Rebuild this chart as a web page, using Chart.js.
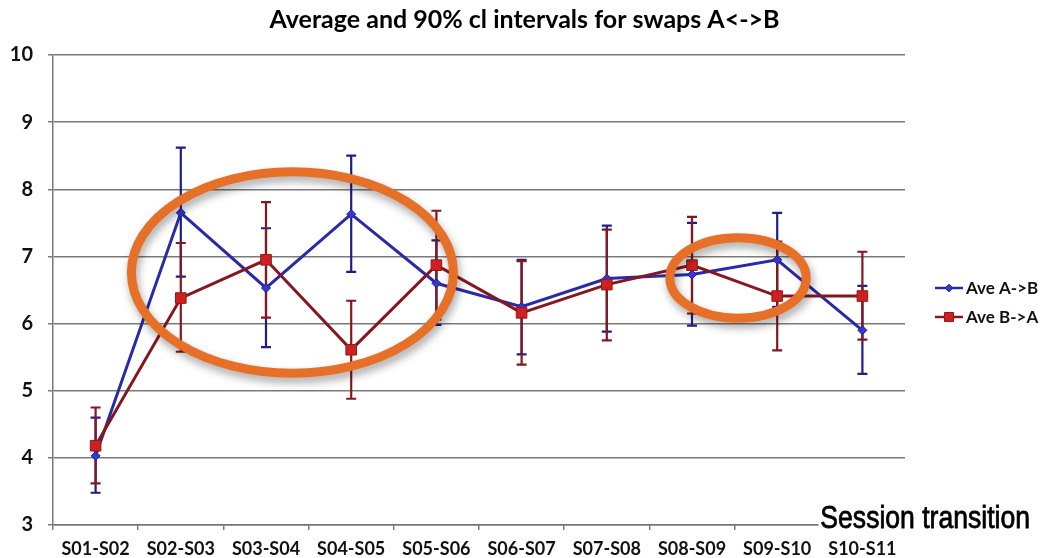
<!DOCTYPE html>
<html>
<head>
<meta charset="utf-8">
<script src="https://cdn.jsdelivr.net/npm/chart.js@4/dist/chart.umd.min.js"></script>
<style>
  html, body { margin: 0; padding: 0; background: #ffffff; }
  #wrap { width: 1041px; height: 558px; }
</style>
</head>
<body>
<div id="wrap"><canvas id="chart" width="1041" height="558"></canvas></div>
<script>
// Session transitions on the x axis
const categories = ['S01-S02', 'S02-S03', 'S03-S04', 'S04-S05', 'S05-S06',
                    'S06-S07', 'S07-S08', 'S08-S09', 'S09-S10', 'S10-S11'];

// Ave A->B with its 90% confidence limits
const aveAB  = [4.03, 7.65, 6.53, 7.63, 6.60, 6.25, 6.67, 6.73, 6.95, 5.90];
const lowAB  = [3.48, 6.70, 5.65, 6.77, 5.98, 5.54, 5.88, 5.97, 6.25, 5.25];
const highAB = [4.60, 8.62, 7.42, 8.50, 7.24, 6.95, 7.46, 7.50, 7.65, 6.56];

// Ave B->A with its 90% confidence limits
const aveBA  = [4.18, 6.38, 6.95, 5.61, 6.87, 6.16, 6.58, 6.87, 6.41, 6.41];
const lowBA  = [3.62, 5.58, 6.09, 4.88, 6.06, 5.39, 5.75, 6.15, 5.60, 5.76];
const highBA = [4.75, 7.20, 7.81, 6.34, 7.68, 6.93, 7.40, 7.59, 7.22, 7.07];

// y axis range and step
const yMin = 3, yMax = 10, yStep = 1;

const seriesNames = ['Ave A->B', 'Ave B->A'];
const chartTitle = 'Average and 90% cl intervals for swaps A<->B';
const xAxisTitle = 'Session transition';

// Highlighted regions, in axis units: [category centre, category half-span, value centre, value half-span]
const highlights = [
  [2.31, 1.89, 6.76, 1.50],
  [7.54, 0.80, 6.68, 0.60]
];

const BLUE = 'rgb(42,42,168)';
const BLUE_DARK = 'rgb(30,30,135)';
const RED = 'rgb(132,24,30)';
const RED_FILL = 'rgb(205,32,32)';
const ORANGE = 'rgb(230,112,40)';
const GRID = 'rgba(115,115,115,0.95)';

// Vertical confidence bars with end caps
const errorBars = {
  id: 'errorBars',
  beforeDatasetsDraw(chart) {
    const { ctx } = chart;
    const x = chart.scales.x, y = chart.scales.y;
    const cap = 5;
    chart.data.datasets.forEach(ds => {
      ctx.save();
      ctx.strokeStyle = ds.barColor;
      ctx.lineWidth = 2.2;
      ds.data.forEach((v, i) => {
        const px = x.getPixelForValue(i);
        const top = y.getPixelForValue(ds.high[i]);
        const bot = y.getPixelForValue(ds.low[i]);
        ctx.beginPath();
        ctx.moveTo(px, top); ctx.lineTo(px, bot);
        ctx.moveTo(px - cap, top); ctx.lineTo(px + cap, top);
        ctx.moveTo(px - cap, bot); ctx.lineTo(px + cap, bot);
        ctx.stroke();
      });
      ctx.restore();
    });
  }
};

// Orange rings around the highlighted regions
const rings = {
  id: 'rings',
  afterDatasetsDraw(chart) {
    const { ctx } = chart;
    const x = chart.scales.x, y = chart.scales.y;
    highlights.forEach(([cx, rx, cy, ry]) => {
      const px = x.getPixelForValue(cx);
      const py = y.getPixelForValue(cy);
      const rpx = Math.abs(x.getPixelForValue(cx + rx) - px);
      const rpy = Math.abs(y.getPixelForValue(cy + ry) - py);
      ctx.save();
      ctx.shadowColor = 'rgba(0,0,0,0.35)';
      ctx.shadowBlur = 9;
      ctx.shadowOffsetX = 2;
      ctx.shadowOffsetY = 5;
      ctx.strokeStyle = ORANGE;
      ctx.lineWidth = 9;
      ctx.beginPath();
      ctx.ellipse(px, py, rpx, rpy, 0, 0, Math.PI * 2);
      ctx.stroke();
      ctx.restore();
    });
  }
};

// Title across the full width, legend on the right, axis caption at the lower right
const sideText = {
  id: 'sideText',
  afterDraw(chart) {
    const { ctx, chartArea } = chart;

    ctx.save();
    ctx.font = 'bold 25px Lato';
    ctx.fillStyle = '#000';
    ctx.textAlign = 'center';
    ctx.textBaseline = 'middle';
    ctx.fillText(chartTitle, chart.width / 2 + 4, 20);
    ctx.restore();

    const mid = (chartArea.top + chartArea.bottom) / 2;
    const rows = [mid - 2, mid + 27];
    chart.data.datasets.forEach((ds, i) => {
      const yy = rows[i];
      const x0 = chartArea.right + 30, x1 = chartArea.right + 58;
      ctx.save();
      ctx.strokeStyle = ds.borderColor;
      ctx.lineWidth = 2.5;
      ctx.beginPath(); ctx.moveTo(x0, yy); ctx.lineTo(x1, yy); ctx.stroke();
      ctx.fillStyle = ds.pointBackgroundColor;
      ctx.strokeStyle = ds.pointBorderColor;
      ctx.lineWidth = 1;
      Chart.helpers.drawPoint(ctx, {
        pointStyle: ds.pointStyle, radius: ds.pointRadius * 0.85, borderWidth: 1
      }, (x0 + x1) / 2, yy);
      ctx.fillStyle = '#111';
      ctx.font = 'bold 17px Lato';
      ctx.textBaseline = 'middle';
      ctx.fillText(ds.label, x1 + 3, yy + 1);
      ctx.restore();
    });

    // caption set in a condensed face, beside the end of the x axis
    ctx.save();
    ctx.font = '32px "Liberation Sans", Arial, sans-serif';
    const squeeze = 0.83;
    const w = ctx.measureText(xAxisTitle).width * squeeze;
    const right = chart.width - 11;
    const base = chartArea.bottom + 3;
    ctx.fillStyle = '#ffffff';
    ctx.fillRect(right - w - 2, base - 27, w + 4, 8 + 27);
    ctx.translate(right, base);
    ctx.scale(squeeze, 1);
    ctx.fillStyle = '#000';
    ctx.strokeStyle = '#000';
    ctx.lineWidth = 0.8;
    ctx.textAlign = 'right';
    ctx.textBaseline = 'alphabetic';
    ctx.fillText(xAxisTitle, 0, 0);
    ctx.strokeText(xAxisTitle, 0, 0);
    ctx.restore();
  }
};

new Chart(document.getElementById('chart'), {
  type: 'line',
  data: {
    labels: categories,
    datasets: [
      {
        label: seriesNames[0],
        data: aveAB, low: lowAB, high: highAB,
        barColor: BLUE_DARK,
        borderColor: BLUE,
        borderWidth: 3,
        pointStyle: 'rectRot',
        pointRadius: 4.5,
        pointBackgroundColor: 'rgb(55,55,215)',
        pointBorderColor: BLUE_DARK,
        pointBorderWidth: 1,
        tension: 0,
        order: 1
      },
      {
        label: seriesNames[1],
        data: aveBA, low: lowBA, high: highBA,
        barColor: RED,
        borderColor: RED,
        borderWidth: 3,
        pointStyle: 'rect',
        pointRadius: 7.5,
        pointBackgroundColor: RED_FILL,
        pointBorderColor: 'rgb(150,25,25)',
        pointBorderWidth: 1,
        tension: 0,
        order: 0
      }
    ]
  },
  options: {
    responsive: false,
    animation: false,
    events: [],
    layout: { padding: { left: 0, right: 136, top: 55, bottom: 0 } },
    plugins: {
      legend: { display: false },
      tooltip: { enabled: false },
      title: { display: false }
    },
    scales: {
      x: {
        offset: true,
        grid: {
          offset: true,
          drawOnChartArea: false,
          drawTicks: true,
          tickLength: 5,
          color: GRID,
          lineWidth: 1.5
        },
        border: { display: true, color: GRID, width: 1.5 },
        ticks: {
          color: '#111',
          font: { family: 'Lato', size: 18, weight: 'bold' },
          padding: 8,
          maxRotation: 0,
          autoSkip: false
        },
        afterFit(scale) { scale.height = 33; }
      },
      y: {
        min: yMin,
        max: yMax,
        ticks: {
          stepSize: yStep,
          color: '#111',
          font: { family: 'Lato', size: 20, weight: 'bold' },
          padding: 15
        },
        grid: {
          color: GRID,
          lineWidth: 1.5,
          drawTicks: true,
          tickLength: 5
        },
        border: { display: true, color: GRID, width: 1.5 },
        afterFit(scale) { scale.width = 53; }
      }
    }
  },
  plugins: [errorBars, rings, sideText]
});
</script>
</body>
</html>
